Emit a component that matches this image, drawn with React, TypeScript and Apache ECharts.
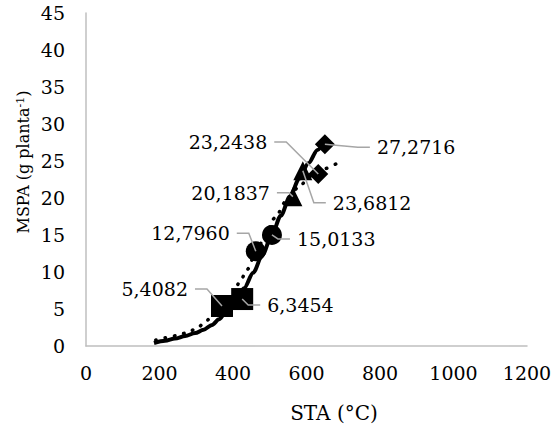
import React, { useEffect, useRef } from 'react';
import * as echarts from 'echarts';

// Observed points (STA °C, MSPA g planta-1)
const squareX = [370, 425];
const squareY = [5.4082, 6.3454];
const circleX = [462, 506];
const circleY = [12.796, 15.0133];
const triangleX = [563, 590];
const triangleY = [20.1837, 23.6812];
const diamondX = [632, 650];
const diamondY = [23.2438, 27.2716];

// Fitted curves
const solidCurveX = [185, 215, 242, 270, 297, 320, 343, 362, 378, 405, 430, 455, 480, 505, 530, 555, 580, 605, 630, 650];
const solidCurveY = [0.4, 0.7, 1.0, 1.35, 1.75, 2.2, 2.85, 3.6, 4.4, 5.9, 7.8, 9.9, 12.3, 14.9, 17.6, 20.2, 22.6, 24.7, 26.5, 27.9];
const dottedCurveX = [190, 215, 247, 275, 302, 324, 346, 370, 400, 419, 438, 460, 482, 514, 545, 577, 610, 645, 680];
const dottedCurveY = [0.8, 1.1, 1.4, 1.8, 2.4, 3.2, 4.3, 5.4, 7.1, 8.7, 10.3, 12.3, 14.3, 17.3, 19.6, 21.4, 22.9, 23.9, 24.6];

// Label placement (pixel offsets from point): [dx, dy, side]
const labelOffsets: [number, number, string][] = [
  [-34, -17, 'L'],
  [25, 6, 'R'],
  [-26, -18, 'L'],
  [25, 4, 'R'],
  [-23, -4, 'L'],
  [30, 32, 'R'],
  [-51, -32, 'L'],
  [52, 3, 'R'],
];

const FONT = 'DejaVu Serif';

const pairs = (xs: number[], ys: number[]) => xs.map((x, i) => [x, ys[i]]);

export default function App() {
  const ref = useRef<HTMLDivElement>(null);
  useEffect(() => {
    const chart = echarts.init(ref.current!, null, { renderer: 'svg' });
    const allPts = [
      ...pairs(squareX, squareY),
      ...pairs(circleX, circleY),
      ...pairs(triangleX, triangleY),
      ...pairs(diamondX, diamondY),
    ];
    const labelData = allPts.map((p, i) => [p[0], p[1], i]);
    const axisLabel = { color: '#000', fontSize: 19, fontFamily: FONT, formatter: (v: number) => String(v) };
    const markerStyle = { color: '#000', opacity: 1 };
    const option: any = {
      animation: false,
      backgroundColor: '#fff',
      grid: { left: 86, right: 27, top: 13, bottom: 82, containLabel: false, outerBoundsMode: 'none' },
      xAxis: {
        type: 'value', min: 0, max: 1200, interval: 200,
        axisLine: { show: true, lineStyle: { color: '#bfbfbf', width: 1.5 } },
        axisTick: { show: false },
        splitLine: { show: false },
        axisLabel: { ...axisLabel, margin: 17 },
      },
      yAxis: {
        type: 'value', min: 0, max: 45, interval: 5,
        axisLine: { show: true, lineStyle: { color: '#bfbfbf', width: 1.5 } },
        axisTick: { show: false },
        splitLine: { show: false },
        axisLabel: { ...axisLabel, margin: 21 },
      },
      graphic: [
        {
          type: 'text', x: 334, y: 413,
          style: { text: 'STA (°C)', fontSize: 20, fontFamily: FONT, fill: '#000', align: 'center', verticalAlign: 'middle' },
        },
        {
          type: 'text', x: 23, y: 162, rotation: Math.PI / 2,
          style: {
            text: '{a|MSPA (g planta}{s|-1}{a|)}',
            fill: '#000', align: 'center', verticalAlign: 'middle',
            rich: {
              a: { fontSize: 16, fontFamily: FONT, fill: '#000' },
              s: { fontSize: 11, fontFamily: FONT, fill: '#000', verticalAlign: 'top' },
            },
          },
        },
      ],
      series: [
        {
          type: 'line', data: pairs(dottedCurveX, dottedCurveY), smooth: 0.3, smoothMonotone: 'x', showSymbol: false, z: 2,
          lineStyle: { color: '#000', width: 3.5, type: [0.5, 9], cap: 'round' },
        },
        {
          type: 'line', data: pairs(solidCurveX, solidCurveY), smooth: 0.3, smoothMonotone: 'x', showSymbol: false, z: 2,
          lineStyle: { color: '#000', width: 4 },
        },
        { type: 'scatter', data: pairs(squareX, squareY), symbol: 'rect', symbolSize: 22, itemStyle: markerStyle, z: 3 },
        { type: 'scatter', data: pairs(circleX, circleY), symbol: 'circle', symbolSize: 20, itemStyle: markerStyle, z: 3 },
        { type: 'scatter', data: pairs(triangleX, triangleY), symbol: 'triangle', symbolSize: 19, itemStyle: markerStyle, z: 3 },
        { type: 'scatter', data: pairs(diamondX, diamondY), symbol: 'diamond', symbolSize: 20, itemStyle: markerStyle, z: 3 },
        {
          type: 'custom', coordinateSystem: 'cartesian2d', data: labelData, encode: { x: 0, y: 1 }, z: 10, clip: false,
          renderItem: (params: any, api: any) => {
            const i = api.value(2);
            const pt = api.coord([api.value(0), api.value(1)]);
            const [dx, dy, side] = labelOffsets[i];
            const tx = pt[0] + dx;
            const ty = pt[1] + dy;
            const toward = side === 'R' ? -1 : 1;
            const sx = tx + toward * 7;
            let ex = sx + toward * 12;
            if ((pt[0] - ex) * toward < 0) ex = pt[0];
            const text = allPts[i][1].toFixed(4).replace('.', ',');
            return {
              type: 'group',
              children: [
                {
                  type: 'polyline',
                  shape: { points: [[sx, ty], [ex, ty], [pt[0], pt[1]]] },
                  style: { stroke: '#a6a6a6', lineWidth: 1.5, fill: null },
                },
                {
                  type: 'text', x: tx, y: ty,
                  style: {
                    text, fill: '#000', fontSize: 19, fontFamily: FONT,
                    align: side === 'R' ? 'left' : 'right', verticalAlign: 'middle',
                  },
                },
              ],
            };
          },
        },
      ],
    };
    chart.setOption(option);
    return () => chart.dispose();
  }, []);
  return <div ref={ref} style={{ position: 'absolute', left: 0, top: 0, width: 554, height: 428, background: '#fff' }} />;
}
